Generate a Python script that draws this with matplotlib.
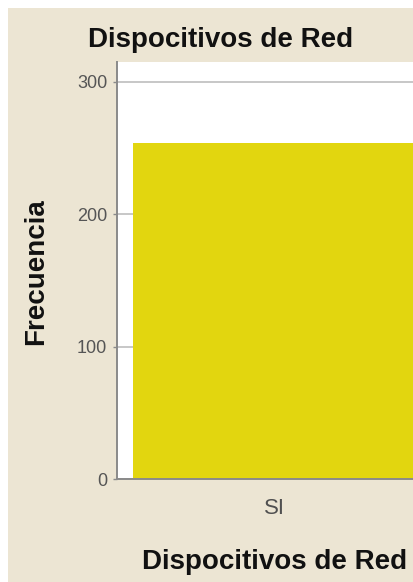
import matplotlib
matplotlib.use('Agg')
import matplotlib.pyplot as plt
from matplotlib.patches import Rectangle

# data
categorias = ['SI']
frecuencia = [254]
yticks = [0, 100, 200, 300]

beige = '#ECE5D3'
amarillo = '#E2D60F'

plt.rcParams['font.family'] = ['Liberation Sans', 'DejaVu Sans']

fig = plt.figure(figsize=(4.14, 5.82), dpi=100)
fig.patch.set_facecolor('white')
# beige panel, small white margin top/left like the screenshot
fig.patches.append(Rectangle((8/414, 0), 1, 1 - 8/582, transform=fig.transFigure,
                             facecolor=beige, edgecolor='none', zorder=-10))

ax = fig.add_axes([117/414, 1 - 479/582, (431 - 117)/414, (479 - 62)/582])
ax.set_facecolor('white')
ax.bar(range(len(categorias)), frecuencia, width=0.898, color=amarillo, zorder=3)
ax.set_xlim(-0.5, 0.5)
ax.set_ylim(0, 315)
ax.set_yticks(yticks)
ax.set_xticks(range(len(categorias)))
ax.set_xticklabels(categorias)
ax.yaxis.grid(True, color='#BDBDBD', linewidth=1.2, zorder=0)

for s in ['top', 'right']:
    ax.spines[s].set_visible(False)
for s in ['left', 'bottom']:
    ax.spines[s].set_color('#8A8A8A')
    ax.spines[s].set_linewidth(1.4)
    ax.spines[s].set_zorder(4)

ax.tick_params(axis='y', length=3, width=1, color='#8A8A8A', pad=4,
               labelsize=13, labelcolor='#555555')
ax.tick_params(axis='x', length=0, pad=14, labelsize=16, labelcolor='#505050')

fig.text(221/414, 1 - 40/582, 'Dispocitivos de Red', fontsize=20, fontweight='bold',
         ha='center', va='center', color='#111111')
fig.text(275/414, 1 - 562/582, 'Dispocitivos de Red', fontsize=20, fontweight='bold',
         ha='center', va='center', color='#111111')
fig.text(36/414, 1 - 272/582, 'Frecuencia', fontsize=20, fontweight='bold',
         rotation=90, ha='center', va='center', color='#111111')

fig.savefig('out.png', dpi=100, facecolor=fig.get_facecolor())
